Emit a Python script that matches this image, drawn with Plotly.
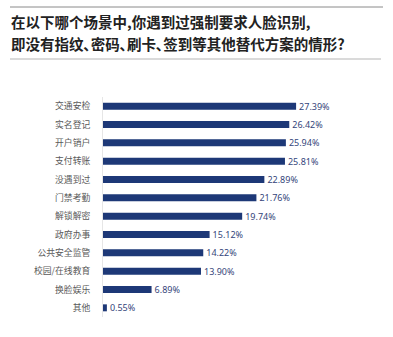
import plotly.graph_objects as go

categories = ["交通安检", "实名登记", "开户销户", "支付转账", "没遇到过", "门禁考勤",
              "解锁解密", "政府办事", "公共安全监管", "校园/在线教育", "换脸娱乐", "其他"]
values = [27.39, 26.42, 25.94, 25.81, 22.89, 21.76, 19.74, 15.12, 14.22, 13.90, 6.89, 0.55]
value_labels = [f"{v:.2f}%" for v in values]

title_lines = ["在以下哪个场景中,你遇到过强制要求人脸识别,",
               "即没有指纹､密码､刷卡､签到等其他替代方案的情形?"]

W, H = 393, 337
L, R, T, B = 103, 10, 97, 20
pw, ph = W - L - R, H - T - B

def px(x):
    return (x - L) / pw

def py(y):
    return (H - B - y) / ph

fig = go.Figure(go.Bar(
    x=values, y=categories, orientation="h",
    marker=dict(color="#1d3877", line=dict(width=0)),
    width=0.38,
    text=value_labels, textposition="outside", cliponaxis=False,
    constraintext="none",
    textfont=dict(family="Noto Sans, sans-serif", size=9, color="#34457a"),
))

fig.update_layout(
    width=W, height=H,
    margin=dict(l=L, r=R, t=T, b=B),
    paper_bgcolor="white", plot_bgcolor="white",
    showlegend=False,
    xaxis=dict(range=[0, pw / 7.05], visible=False, fixedrange=True),
    yaxis=dict(autorange="reversed", showgrid=False, zeroline=False,
               showline=True, linecolor="#e6e6e6", linewidth=1,
               ticks="", ticklabelstandoff=10,
               tickfont=dict(family="Noto Sans CJK SC", size=8.8, color="#5a5a5a")),
    font=dict(family="Noto Sans CJK SC"),
)

fig.add_shape(type="line", xref="paper", yref="paper",
              x0=px(10), x1=px(383), y0=py(7), y1=py(7),
              line=dict(color="#8a8a8a", width=1))
fig.add_shape(type="line", xref="paper", yref="paper",
              x0=px(10), x1=px(381), y0=py(59), y1=py(59),
              line=dict(color="#b5b5b5", width=1))

for i, (line, yy) in enumerate(zip(title_lines, [21, 44])):
    fig.add_annotation(text=f"<b>{line}</b>", xref="paper", yref="paper",
                       x=px(9), y=py(yy), xanchor="left", yanchor="middle",
                       showarrow=False,
                       font=dict(family="Noto Sans CJK SC", size=14.5, color="#222222"))

fig.write_html("out.html")
